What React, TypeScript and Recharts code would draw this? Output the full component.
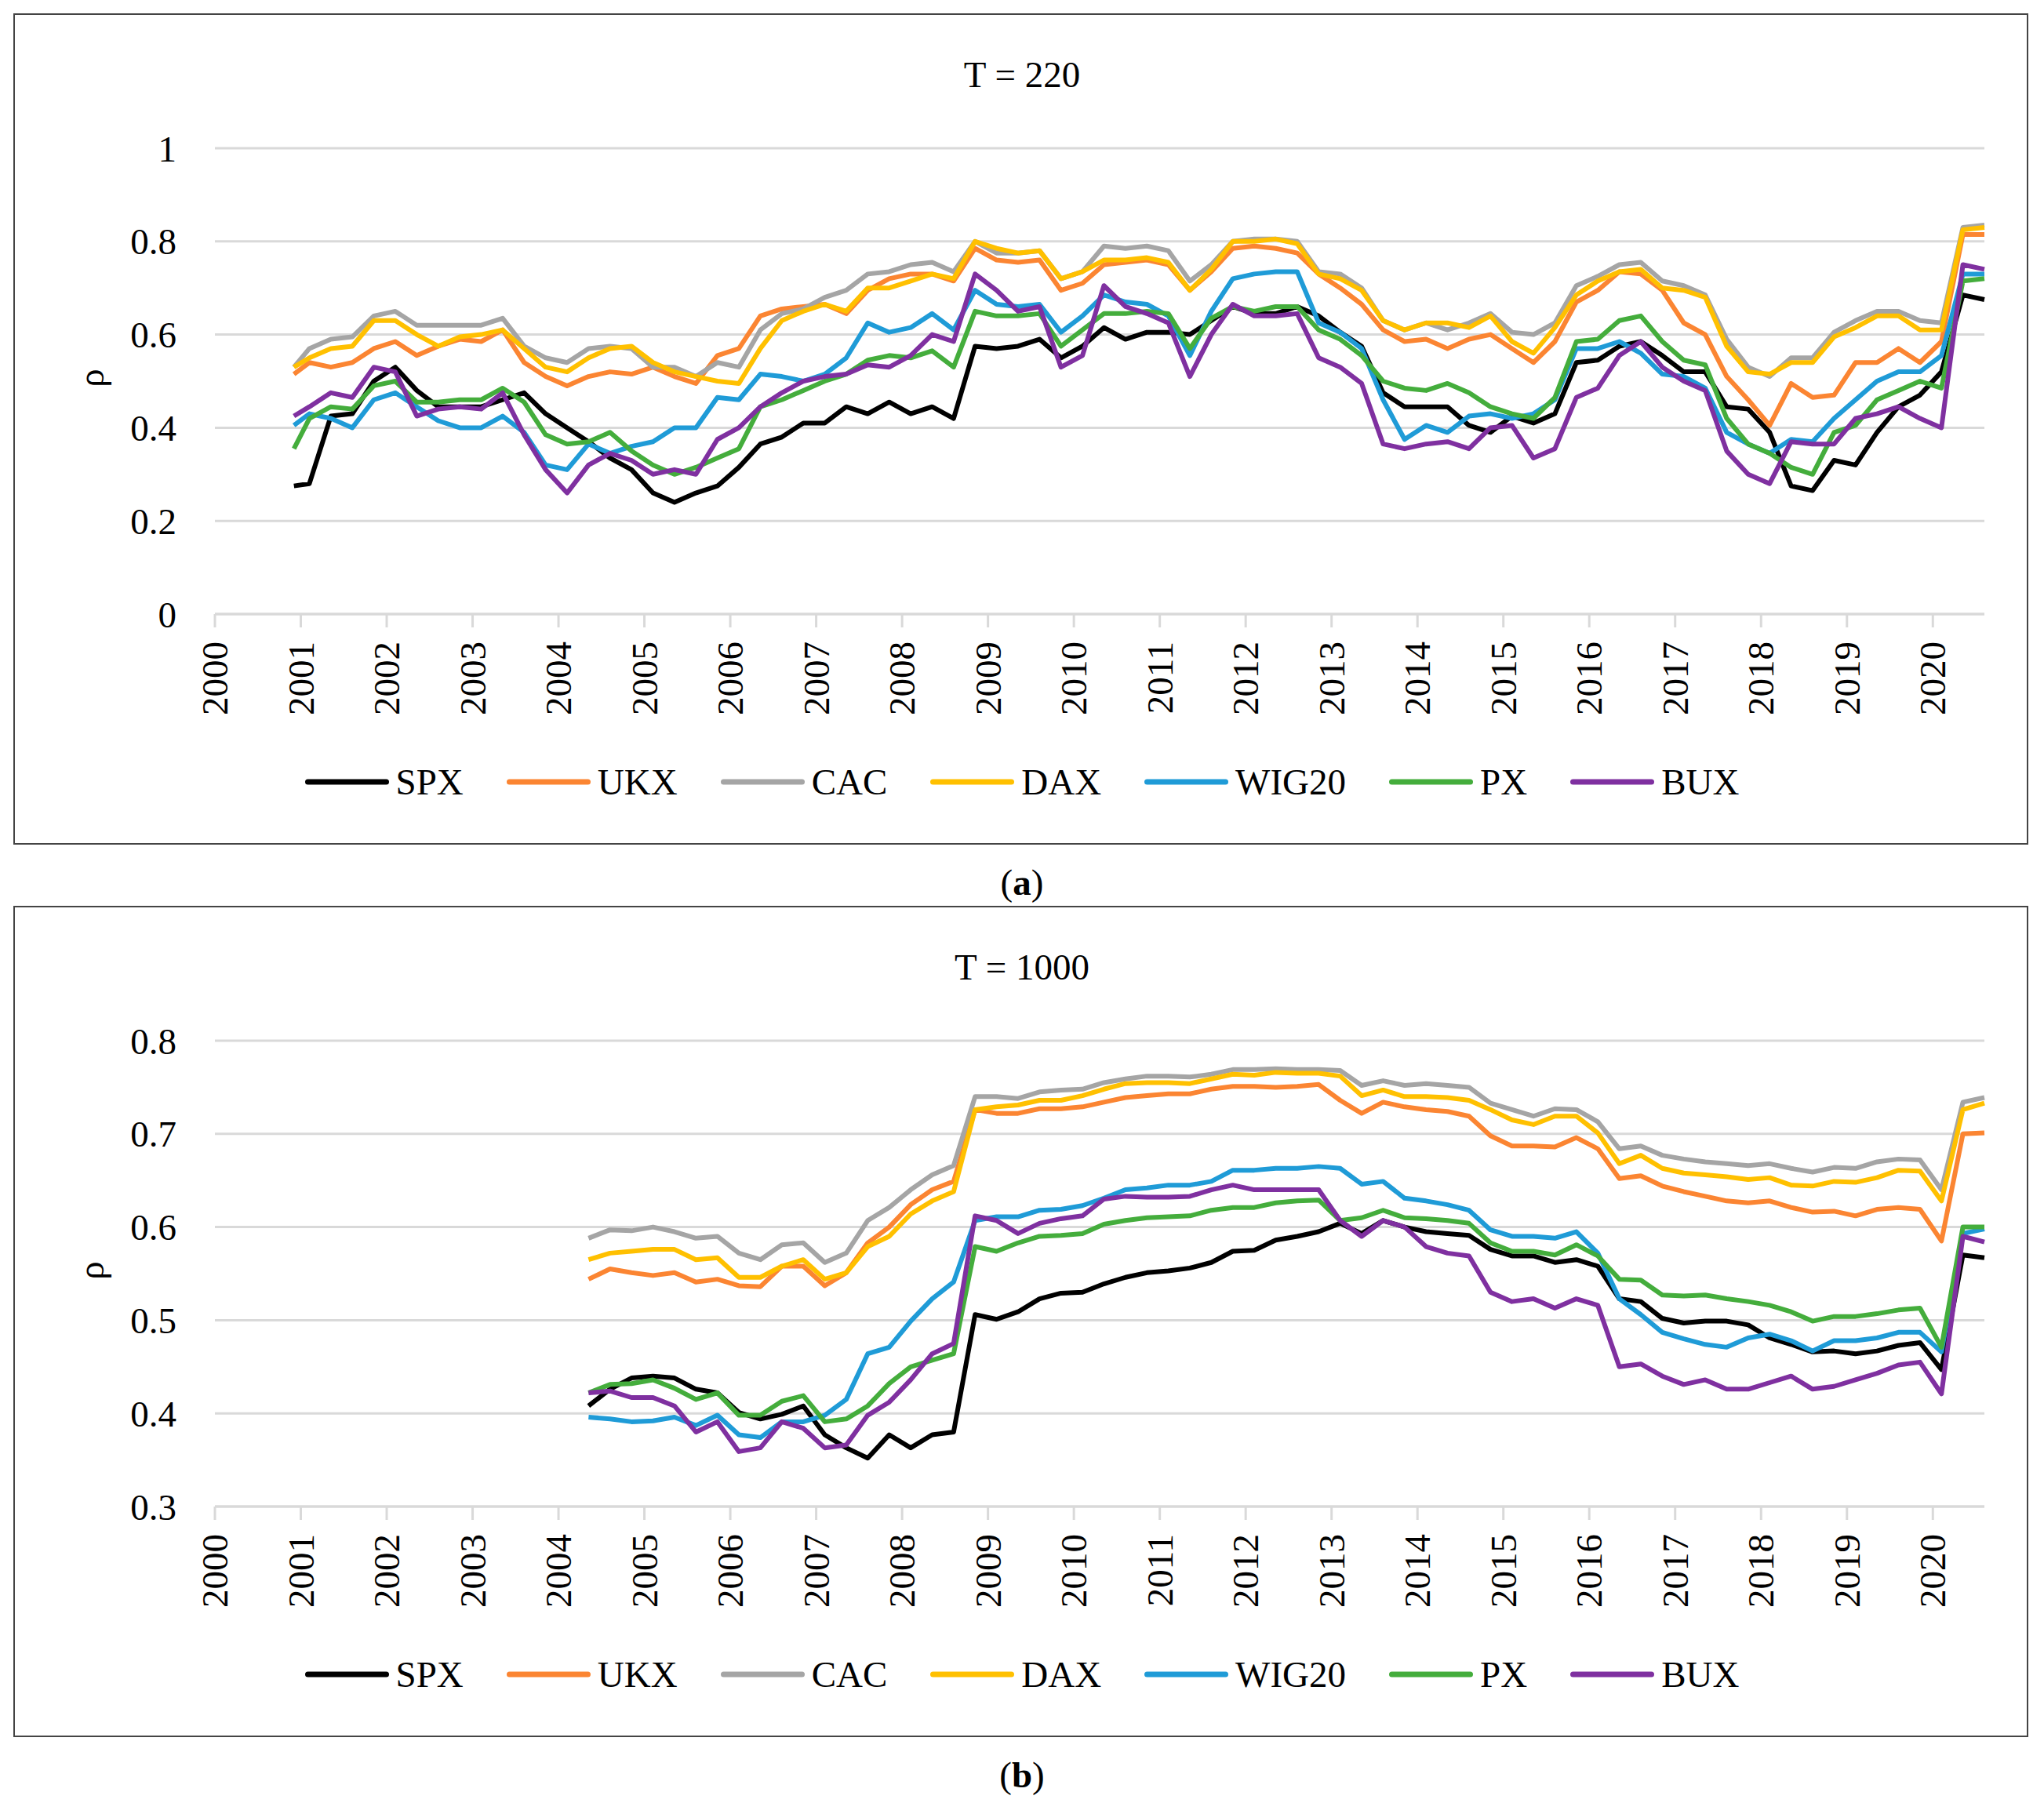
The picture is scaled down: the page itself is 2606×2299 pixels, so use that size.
import React from 'react';
import { LineChart, Line, XAxis, YAxis, CartesianGrid } from 'recharts';

// Rolling correlation of each index — T = 220 (panel a) and T = 1000 (panel b)

const SERIES = ['SPX', 'UKX', 'CAC', 'DAX', 'WIG20', 'PX', 'BUX'];
const COLORS = ['#000000', '#fb8532', '#a5a5a5', '#ffc000', '#1f9bd7', '#44ad3c', '#7f30a0'];
const YEAR_TICKS = [2000, 2001, 2002, 2003, 2004, 2005, 2006, 2007, 2008, 2009, 2010, 2011, 2012, 2013, 2014, 2015, 2016, 2017, 2018, 2019, 2020];

// ---- panel (a): T = 220 ----
const yearsA = [
  2000.92, 2001.1, 2001.35, 2001.6, 2001.85, 2002.1, 2002.35, 2002.6, 2002.85, 2003.1, 2003.35, 2003.6, 2003.85,
  2004.1, 2004.35, 2004.6, 2004.85, 2005.1, 2005.35, 2005.6, 2005.85, 2006.1, 2006.35, 2006.6, 2006.85,
  2007.1, 2007.35, 2007.6, 2007.85, 2008.1, 2008.35, 2008.6, 2008.85, 2009.1, 2009.35, 2009.6, 2009.85,
  2010.1, 2010.35, 2010.6, 2010.85, 2011.1, 2011.35, 2011.6, 2011.85, 2012.1, 2012.35, 2012.6, 2012.85,
  2013.1, 2013.35, 2013.6, 2013.85, 2014.1, 2014.35, 2014.6, 2014.85, 2015.1, 2015.35, 2015.6, 2015.85,
  2016.1, 2016.35, 2016.6, 2016.85, 2017.1, 2017.35, 2017.6, 2017.85, 2018.1, 2018.35, 2018.6, 2018.85,
  2019.1, 2019.35, 2019.6, 2019.85, 2020.1, 2020.35, 2020.6,
];
const spxA = [
  0.275, 0.28, 0.425, 0.43, 0.5, 0.53, 0.48, 0.445, 0.445, 0.445, 0.46, 0.475, 0.43, 0.4, 0.37, 0.335, 0.31, 0.26, 0.24, 0.26, 0.275, 0.315, 0.365, 0.38, 0.41,
  0.41, 0.445, 0.43, 0.455, 0.43, 0.445, 0.42, 0.575, 0.57, 0.575, 0.59, 0.55, 0.575, 0.615, 0.59, 0.605, 0.605, 0.6, 0.63, 0.66, 0.645, 0.645, 0.66, 0.64, 0.605, 0.575, 0.475, 0.445,
  0.445, 0.445, 0.405, 0.39, 0.425, 0.41, 0.43, 0.54, 0.545, 0.575, 0.585, 0.555, 0.52, 0.52, 0.445, 0.44, 0.39, 0.275, 0.265, 0.33, 0.32, 0.39, 0.445, 0.47, 0.52, 0.685, 0.675,
];
const ukxA = [
  0.515, 0.54, 0.53, 0.54, 0.57, 0.585, 0.555, 0.575, 0.59, 0.585, 0.61, 0.54, 0.51, 0.49, 0.51, 0.52, 0.515, 0.53, 0.51, 0.495, 0.555, 0.57, 0.64, 0.655, 0.66,
  0.665, 0.645, 0.695, 0.72, 0.73, 0.73, 0.715, 0.785, 0.76, 0.755, 0.76, 0.695, 0.71, 0.75, 0.755, 0.76, 0.75, 0.695, 0.735, 0.785, 0.79, 0.785, 0.775, 0.73, 0.7, 0.665, 0.61, 0.585,
  0.59, 0.57, 0.59, 0.6, 0.57, 0.54, 0.585, 0.67, 0.695, 0.735, 0.73, 0.695, 0.625, 0.6, 0.51, 0.46, 0.405, 0.495, 0.465, 0.47, 0.54, 0.54, 0.57, 0.54, 0.585, 0.815, 0.815,
];
const cacA = [
  0.53, 0.57, 0.59, 0.595, 0.64, 0.65, 0.62, 0.62, 0.62, 0.62, 0.635, 0.575, 0.55, 0.54, 0.57, 0.575, 0.57, 0.53, 0.53, 0.51, 0.54, 0.53, 0.61, 0.645, 0.655,
  0.68, 0.695, 0.73, 0.735, 0.75, 0.755, 0.735, 0.8, 0.775, 0.775, 0.78, 0.72, 0.735, 0.79, 0.785, 0.79, 0.78, 0.715, 0.75, 0.8, 0.805, 0.805, 0.8, 0.735, 0.73, 0.7, 0.63, 0.61,
  0.625, 0.61, 0.625, 0.645, 0.605, 0.6, 0.625, 0.705, 0.725, 0.75, 0.755, 0.715, 0.705, 0.685, 0.59, 0.53, 0.51, 0.55, 0.55, 0.605, 0.63, 0.65, 0.65, 0.63, 0.625, 0.83, 0.835,
];
const daxA = [
  0.53, 0.55, 0.57, 0.575, 0.63, 0.63, 0.6, 0.575, 0.595, 0.6, 0.61, 0.57, 0.53, 0.52, 0.55, 0.57, 0.575, 0.54, 0.52, 0.51, 0.5, 0.495, 0.57, 0.63, 0.65,
  0.665, 0.65, 0.7, 0.7, 0.715, 0.73, 0.72, 0.8, 0.785, 0.775, 0.78, 0.72, 0.735, 0.76, 0.76, 0.765, 0.755, 0.695, 0.74, 0.8, 0.8, 0.805, 0.795, 0.73, 0.72, 0.695, 0.63, 0.61,
  0.625, 0.625, 0.615, 0.64, 0.585, 0.56, 0.615, 0.685, 0.715, 0.735, 0.74, 0.7, 0.695, 0.68, 0.575, 0.52, 0.515, 0.54, 0.54, 0.595, 0.615, 0.64, 0.64, 0.61, 0.61, 0.825, 0.83,
];
const wigA = [
  0.405, 0.43, 0.42, 0.4, 0.46, 0.475, 0.445, 0.415, 0.4, 0.4, 0.425, 0.39, 0.32, 0.31, 0.365, 0.345, 0.36, 0.37, 0.4, 0.4, 0.465, 0.46, 0.515, 0.51, 0.5,
  0.515, 0.55, 0.625, 0.605, 0.615, 0.645, 0.61, 0.695, 0.665, 0.66, 0.665, 0.605, 0.64, 0.685, 0.67, 0.665, 0.64, 0.555, 0.65, 0.72, 0.73, 0.735, 0.735, 0.625, 0.605, 0.57, 0.46, 0.375,
  0.405, 0.39, 0.425, 0.43, 0.42, 0.43, 0.46, 0.57, 0.57, 0.585, 0.56, 0.515, 0.51, 0.485, 0.39, 0.365, 0.345, 0.375, 0.37, 0.42, 0.46, 0.5, 0.52, 0.52, 0.555, 0.73, 0.73,
];
const pxA = [
  0.355, 0.42, 0.445, 0.44, 0.49, 0.5, 0.455, 0.455, 0.46, 0.46, 0.485, 0.455, 0.385, 0.365, 0.37, 0.39, 0.35, 0.32, 0.3, 0.315, 0.335, 0.355, 0.445, 0.46, 0.48,
  0.5, 0.515, 0.545, 0.555, 0.55, 0.565, 0.53, 0.65, 0.64, 0.64, 0.645, 0.575, 0.61, 0.645, 0.645, 0.65, 0.645, 0.57, 0.635, 0.66, 0.65, 0.66, 0.66, 0.61, 0.59, 0.555, 0.5, 0.485,
  0.48, 0.495, 0.475, 0.445, 0.43, 0.42, 0.465, 0.585, 0.59, 0.63, 0.64, 0.585, 0.545, 0.535, 0.42, 0.365, 0.345, 0.315, 0.3, 0.39, 0.405, 0.46, 0.48, 0.5, 0.485, 0.715, 0.72,
];
const buxA = [
  0.425, 0.445, 0.475, 0.465, 0.53, 0.52, 0.425, 0.44, 0.445, 0.44, 0.475, 0.385, 0.31, 0.26, 0.32, 0.345, 0.33, 0.3, 0.31, 0.3, 0.375, 0.4, 0.445, 0.475, 0.5,
  0.51, 0.515, 0.535, 0.53, 0.555, 0.6, 0.585, 0.73, 0.695, 0.65, 0.66, 0.53, 0.555, 0.705, 0.66, 0.645, 0.625, 0.51, 0.6, 0.665, 0.64, 0.64, 0.645, 0.55, 0.53, 0.495, 0.365, 0.355,
  0.365, 0.37, 0.355, 0.4, 0.405, 0.335, 0.355, 0.465, 0.485, 0.555, 0.585, 0.53, 0.5, 0.48, 0.35, 0.3, 0.28, 0.37, 0.365, 0.365, 0.42, 0.43, 0.445, 0.42, 0.4, 0.75, 0.74,
];

// ---- panel (b): T = 1000 ----
const yearsB = [
  2004.35, 2004.6, 2004.85, 2005.1, 2005.35, 2005.6, 2005.85, 2006.1, 2006.35, 2006.6, 2006.85,
  2007.1, 2007.35, 2007.6, 2007.85, 2008.1, 2008.35, 2008.6, 2008.85, 2009.1, 2009.35, 2009.6,
  2009.85, 2010.1, 2010.35, 2010.6, 2010.85, 2011.1, 2011.35, 2011.6, 2011.85, 2012.1, 2012.35,
  2012.6, 2012.85, 2013.1, 2013.35, 2013.6, 2013.85, 2014.1, 2014.35, 2014.6, 2014.85, 2015.1,
  2015.35, 2015.6, 2015.85, 2016.1, 2016.35, 2016.6, 2016.85, 2017.1, 2017.35, 2017.6, 2017.85,
  2018.1, 2018.35, 2018.6, 2018.85, 2019.1, 2019.35, 2019.6, 2019.85, 2020.1, 2020.35, 2020.6,
];
const spxB = [
  0.408, 0.426, 0.438, 0.44, 0.438, 0.426, 0.422, 0.401, 0.394, 0.399, 0.408, 0.377, 0.363, 0.352, 0.377, 0.363, 0.377, 0.38, 0.506, 0.501, 0.509, 0.523,
  0.529, 0.53, 0.539, 0.546, 0.551, 0.553, 0.556, 0.562, 0.574, 0.575, 0.586, 0.59, 0.595, 0.604, 0.593, 0.607, 0.6, 0.595, 0.593, 0.591, 0.576, 0.569,
  0.569, 0.562, 0.565, 0.558, 0.523, 0.52, 0.502, 0.497, 0.499, 0.499, 0.495, 0.481, 0.474, 0.466, 0.467, 0.464, 0.467, 0.473, 0.476, 0.447, 0.57, 0.567,
];
const ukxB = [
  0.544, 0.555, 0.551, 0.548, 0.551, 0.541, 0.544, 0.537, 0.536, 0.558, 0.558, 0.537, 0.551, 0.583, 0.6, 0.624, 0.64, 0.649, 0.726, 0.722, 0.722, 0.727,
  0.727, 0.729, 0.734, 0.739, 0.741, 0.743, 0.743, 0.748, 0.751, 0.751, 0.75, 0.751, 0.753, 0.736, 0.722, 0.734, 0.729, 0.726, 0.724, 0.719, 0.698, 0.687,
  0.687, 0.686, 0.696, 0.684, 0.652, 0.655, 0.644, 0.638, 0.633, 0.628, 0.626, 0.628, 0.621, 0.616, 0.617, 0.612, 0.619, 0.621, 0.619, 0.585, 0.7, 0.701,
];
const cacB = [
  0.588, 0.597, 0.596, 0.6, 0.595, 0.588, 0.59, 0.572, 0.565, 0.581, 0.583, 0.562, 0.572, 0.607, 0.621, 0.64, 0.656, 0.666, 0.74, 0.74, 0.738, 0.745,
  0.747, 0.748, 0.755, 0.759, 0.762, 0.762, 0.761, 0.764, 0.769, 0.769, 0.77, 0.769, 0.769, 0.768, 0.752, 0.757, 0.752, 0.754, 0.752, 0.75, 0.733, 0.726,
  0.719, 0.727, 0.726, 0.713, 0.684, 0.687, 0.677, 0.673, 0.67, 0.668, 0.666, 0.668, 0.663, 0.659, 0.664, 0.663, 0.67, 0.673, 0.672, 0.64, 0.734, 0.739,
];
const daxB = [
  0.565, 0.572, 0.574, 0.576, 0.576, 0.565, 0.567, 0.546, 0.546, 0.558, 0.565, 0.544, 0.551, 0.579, 0.59, 0.614, 0.628, 0.638, 0.726, 0.729, 0.731, 0.736,
  0.736, 0.741, 0.748, 0.754, 0.755, 0.755, 0.754, 0.759, 0.764, 0.763, 0.766, 0.765, 0.765, 0.762, 0.741, 0.747, 0.74, 0.74, 0.739, 0.736, 0.726, 0.715,
  0.71, 0.719, 0.719, 0.701, 0.668, 0.677, 0.663, 0.658, 0.656, 0.654, 0.651, 0.653, 0.645, 0.644, 0.649, 0.648, 0.653, 0.661, 0.66, 0.628, 0.726, 0.733,
];
const wigB = [
  0.396, 0.394, 0.391, 0.392, 0.396, 0.387, 0.398, 0.377, 0.374, 0.391, 0.391, 0.398, 0.415, 0.464, 0.471, 0.499, 0.523, 0.541, 0.607, 0.611, 0.611, 0.618,
  0.619, 0.623, 0.631, 0.64, 0.642, 0.645, 0.645, 0.649, 0.661, 0.661, 0.663, 0.663, 0.665, 0.663, 0.646, 0.649, 0.631, 0.628, 0.624, 0.618, 0.597, 0.59,
  0.59, 0.588, 0.595, 0.572, 0.523, 0.506, 0.487, 0.48, 0.474, 0.471, 0.481, 0.485, 0.478, 0.467, 0.478, 0.478, 0.481, 0.487, 0.487, 0.466, 0.593, 0.598,
];
const pxB = [
  0.422, 0.431, 0.432, 0.436, 0.427, 0.415, 0.422, 0.398, 0.398, 0.413, 0.419, 0.391, 0.394, 0.408, 0.432, 0.45, 0.457, 0.464, 0.579, 0.574, 0.583, 0.59,
  0.591, 0.593, 0.603, 0.607, 0.61, 0.611, 0.612, 0.618, 0.621, 0.621, 0.626, 0.628, 0.629, 0.607, 0.61, 0.618, 0.61, 0.609, 0.607, 0.604, 0.583, 0.574,
  0.574, 0.57, 0.581, 0.569, 0.544, 0.543, 0.527, 0.526, 0.527, 0.523, 0.52, 0.516, 0.509, 0.499, 0.504, 0.504, 0.507, 0.511, 0.513, 0.471, 0.6, 0.6,
];
const buxB = [
  0.422, 0.424, 0.417, 0.417, 0.408, 0.38, 0.391, 0.359, 0.363, 0.391, 0.384, 0.363, 0.366, 0.398, 0.412, 0.436, 0.464, 0.475, 0.612, 0.607, 0.593, 0.604,
  0.609, 0.612, 0.63, 0.633, 0.632, 0.632, 0.633, 0.64, 0.645, 0.64, 0.64, 0.64, 0.64, 0.607, 0.59, 0.607, 0.6, 0.579, 0.572, 0.569, 0.53, 0.52,
  0.523, 0.513, 0.523, 0.516, 0.45, 0.453, 0.44, 0.431, 0.436, 0.426, 0.426, 0.433, 0.44, 0.426, 0.429, 0.436, 0.443, 0.452, 0.455, 0.421, 0.59, 0.584,
];

const buildRows = (years: number[], cols: number[][]) =>
  years.map((year, i) => {
    const row: any = { year };
    SERIES.forEach((name, k) => { row[name] = cols[k][i]; });
    return row;
  });

const dataA = buildRows(yearsA, [spxA, ukxA, cacA, daxA, wigA, pxA, buxA]);
const dataB = buildRows(yearsB, [spxB, ukxB, cacB, daxB, wigB, pxB, buxB]);

const FONT = '"Liberation Serif", "Times New Roman", serif';
const GRID = '#d9d9d9';

const YearTick = (props: any) => {
  const { x, y, payload } = props;
  return (
    <text
      x={x}
      y={y}
      transform={`rotate(-90, ${x}, ${y})`}
      textAnchor="end"
      dominantBaseline="central"
      fontSize={47}
      fontFamily={FONT}
      fill="#000"
    >
      {payload.value}
    </text>
  );
};

interface PanelProps {
  top: number;
  title: string;
  caption: string;
  data: any[];
  yDomain: [number, number];
  yTicks: number[];
}

const Panel: React.FC<PanelProps> = ({ top, title, caption, data, yDomain, yTicks }) => {
  return (
    <>
      <div
        style={{
          position: 'absolute', left: 17, top, width: 2569, height: 1060,
          border: '2px solid #444', boxSizing: 'border-box',
        }}
      />
      <div
        style={{
          position: 'absolute', left: 0, top: top + 78, width: 2606, textAlign: 'center',
          fontSize: 47, lineHeight: 1, transform: 'translateY(-50%)',
        }}
      >
        {title}
      </div>
      <div
        style={{
          position: 'absolute', left: 116, top: top + 465, fontSize: 47, lineHeight: 1,
          transform: 'translate(-50%, -50%) rotate(-90deg)',
        }}
      >
        ρ
      </div>
      <div style={{ position: 'absolute', left: 0, top }}>
        <LineChart
          width={2606}
          height={1060}
          data={data}
          margin={{ top: 172, right: 76, left: 174, bottom: 144 }}
        >
          <CartesianGrid vertical={false} stroke={GRID} strokeWidth={3} />
          <XAxis
            dataKey="year"
            type="number"
            domain={[2000, 2020.6]}
            ticks={YEAR_TICKS}
            interval={0}
            height={150}
            axisLine={{ stroke: GRID, strokeWidth: 3 }}
            tickLine={{ stroke: GRID, strokeWidth: 3 }}
            tickSize={17}
            tickMargin={18}
            tick={(p: any) => <YearTick {...p} />}
          />
          <YAxis
            type="number"
            domain={yDomain}
            ticks={yTicks}
            interval={0}
            width={100}
            axisLine={false}
            tickLine={false}
            tickSize={0}
            tickMargin={49}
            tick={{ fontSize: 47, fill: '#000', fontFamily: FONT }}
            tickFormatter={(v: number) => String(v)}
          />
          {SERIES.map((name, k) => (
            <Line
              key={name}
              type="linear"
              dataKey={name}
              stroke={COLORS[k]}
              strokeWidth={6}
              strokeLinejoin="round"
              dot={false}
              activeDot={false}
              isAnimationActive={false}
            />
          ))}
        </LineChart>
      </div>
      <div
        style={{
          position: 'absolute', left: 0, top: top + 980, width: 2606, display: 'flex',
          justifyContent: 'center', alignItems: 'center', gap: 55, transform: 'translateY(-50%)',
          fontSize: 47, lineHeight: 1,
        }}
      >
        {SERIES.map((name, k) => (
          <div key={name} style={{ display: 'flex', alignItems: 'center' }}>
            <span
              style={{
                display: 'inline-block', width: 107, height: 7, borderRadius: 4,
                background: COLORS[k], marginRight: 9,
              }}
            />
            <span>{name}</span>
          </div>
        ))}
      </div>
      <div
        style={{
          position: 'absolute', left: 0, top: top + 1108, width: 2606, textAlign: 'center',
          fontSize: 47, lineHeight: 1, transform: 'translateY(-50%)',
        }}
      >
        (<b>{caption}</b>)
      </div>
    </>
  );
};

export default function App() {
  return (
    <div
      style={{
        position: 'absolute', left: 0, top: 0, width: 2606, height: 2299,
        background: '#fff', fontFamily: FONT, color: '#000',
      }}
    >
      <Panel top={17} title="T = 220" caption="a" data={dataA} yDomain={[0, 1]} yTicks={[0, 0.2, 0.4, 0.6, 0.8, 1]} />
      <Panel top={1155} title="T = 1000" caption="b" data={dataB} yDomain={[0.3, 0.8]} yTicks={[0.3, 0.4, 0.5, 0.6, 0.7, 0.8]} />
    </div>
  );
}
